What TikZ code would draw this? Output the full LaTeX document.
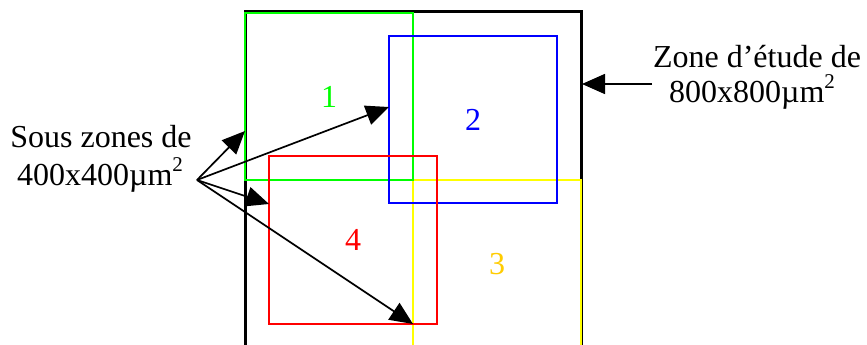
\documentclass[tikz,border=0pt]{standalone}
\usepackage{fontspec}
\setmainfont{Liberation Serif}
\usetikzlibrary{arrows.meta}
\definecolor{zgreen}{HTML}{00FF00}
\definecolor{zblue}{HTML}{0000FF}
\definecolor{zred}{HTML}{FF0000}
\definecolor{zyellow}{HTML}{FFFF00}
\definecolor{zthree}{HTML}{FFCC00}
\newcommand{\sqsup}{\raisebox{0.42em}{\fontsize{21}{21}\selectfont 2}}
\begin{document}
\begin{tikzpicture}[x=1pt,y=-1pt,
  zone/.style={draw, line width=2pt, minimum width=168pt, minimum height=168pt, inner sep=0pt, outer sep=0pt, font=\fontsize{32}{38}\selectfont},
  lbl/.style={anchor=base, inner sep=0pt, font=\fontsize{32}{38}\selectfont},
  arr/.style={line width=1.7pt, -{Triangle[length=23pt,width=20pt]}}]
\useasboundingbox (0,0) rectangle (867,345);
\clip (0,0) rectangle (867,345);
\fill[white] (0,0) rectangle (867,345);
% outer study zone
\node[draw, line width=3pt, minimum width=336pt, minimum height=336pt, inner sep=0pt, outer sep=0pt] (outer) at (413,180) {};
% sub zones
\node[zone, draw=zyellow, text=zthree] (z3) at (497,264) {3};
\node[zone, draw=zgreen, text=zgreen, minimum height=167pt] (z1) at (329,96.5) {1};
\node[zone, draw=zblue, text=zblue, minimum height=167pt] (z2) at (473,119.5) {2};
\node[zone, draw=zred, text=zred] (z4) at (353,240) {4};
% texts
\node[lbl] (l1) at (101,147) {Sous zones de};
\node[lbl] (l2) at (100,185) {400x400µm\sqsup};
\node[lbl] (r1) at (757,67) {Zone d’étude de};
\node[lbl] (r2) at (752,102) {800x800µm\sqsup};
% arrow anchors
\coordinate (src) at (197,180);
\coordinate (t1) at (245,131);
\coordinate (t2) at (389,107);
\coordinate (t3) at (269,204);
\coordinate (t4) at (413,324);
\coordinate (rs) at (652,84);
\coordinate (rt) at (582,84);
\draw[arr] (src) -- (t1);
\draw[arr] (src) -- (t2);
\draw[arr] (src) -- (t3);
\draw[arr] (src) -- (t4);
\draw[arr] (rs) -- (rt);
\end{tikzpicture}
\end{document}
